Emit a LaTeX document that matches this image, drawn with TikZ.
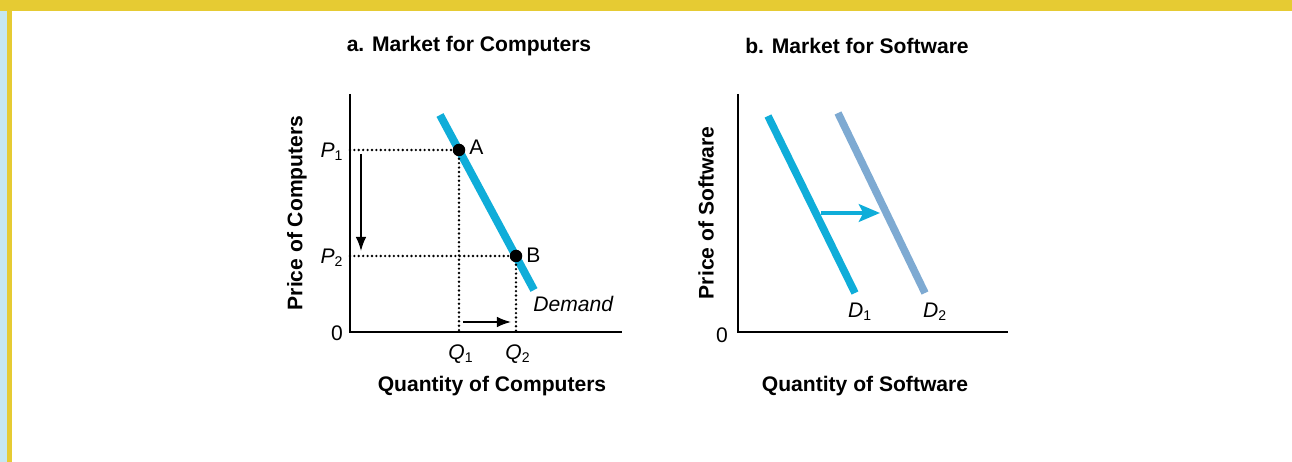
\documentclass[tikz,border=0pt]{standalone}
\usepackage{fontspec}
\setmainfont{Liberation Sans}
\usetikzlibrary{arrows.meta}

\definecolor{demandcyan}{HTML}{0FADD9}
\definecolor{shiftsteel}{HTML}{7EAAD2}
\definecolor{bandyellow}{HTML}{E6CB33}
\definecolor{bandblue}{HTML}{C6E7F1}

\tikzset{
  lbl/.style={inner sep=0pt, font=\fontsize{12}{14}\selectfont},
  boldlbl/.style={lbl, font=\fontsize{12}{14}\selectfont\bfseries},
  axis/.style={line width=0.85pt},
  demandline/.style={line width=4.5pt, demandcyan},
  guide/.style={line width=1.5pt, dash pattern=on 0pt off 2.5pt, line cap=round},
  movearrow/.style={line width=0.85pt, -{Latex[length=8pt,width=6pt]}},
}

\begin{document}
\begin{tikzpicture}[x=0.02cm,y=-0.02cm]
            \useasboundingbox (0,0) rectangle (1292,462);
            % frame
            \fill[bandblue] (0,0) rectangle (6.5,462);
            \fill[bandyellow] (6.5,0) rectangle (12,462);
            \fill[bandyellow] (0,0) rectangle (1292,11);

            % a. computers
            \coordinate (O1) at (350,332);
            \coordinate (Ytop1) at (350,94);
            \coordinate (Xend1) at (622,332);
            \coordinate (A) at (459,150);
            \coordinate (B) at (516,256);
            \coordinate (Dtop) at (440,115);
            \coordinate (Dbot) at (534,290);

            \draw[axis] (Ytop1) -- (O1) -- (Xend1);
            \draw[demandline] (Dtop) -- (Dbot);

            \draw[guide] (O1 |- A) -- (A);
            \draw[guide] (O1 |- B) -- (B);
            \draw[guide] (A) -- (A |- O1);
            \draw[guide] (B) -- (B |- O1);

            \coordinate (P1arr) at (361,154);
            \coordinate (P2arr) at (361,251);
            \coordinate (Q1arr) at (463,322);
            \coordinate (Q2arr) at (511,322);
            \draw[movearrow] (P1arr) -- (P2arr);
            \draw[movearrow] (Q1arr) -- (Q2arr);

            \fill (A) circle (0.125cm);
            \fill (B) circle (0.125cm);

            \node[lbl, anchor=west] (labA) at (469,147) {A};
            \node[lbl, anchor=west] (labB) at (526,255) {B};
            \node[lbl] (labP1) at (332,152) {$\mathit{P}_{\mathrm{1}}$};
            \node[lbl] (labP2) at (332,258) {$\mathit{P}_{\mathrm{2}}$};
            \node[lbl] (labQ1) at (461,354) {$\mathit{Q}_{\mathrm{1}}$};
            \node[lbl] (labQ2) at (518,354) {$\mathit{Q}_{\mathrm{2}}$};
            \node[lbl] (zero1) at (337,333) {0};
            \node[lbl, anchor=west] (labDem) at (533,304) {\itshape Demand};

            \node[boldlbl] (titleA) at (469,46) {a. Market for Computers};
            \node[boldlbl, rotate=90] (priceA) at (297,213) {Price of Computers};
            \node[boldlbl] (qtyA) at (492,386) {Quantity of Computers};

            % b. software
            \coordinate (O2) at (738,332);
            \coordinate (Ytop2) at (738,94);
            \coordinate (Xend2) at (1008,332);
            \coordinate (D1top) at (768,116);
            \coordinate (D1bot) at (855,293);
            \coordinate (D2top) at (838,113);
            \coordinate (D2bot) at (925,293);
            \coordinate (shiftfrom) at (821,213);
            \coordinate (shiftto) at (880,213);

            \draw[axis] (Ytop2) -- (O2) -- (Xend2);
            \draw[line width=4.3pt, demandcyan] (D1top) -- (D1bot);
            \draw[line width=4.3pt, shiftsteel] (D2top) -- (D2bot);
            \draw[line width=2.8pt, demandcyan, -{Stealth[length=12pt,width=10pt,inset=2.5pt]}] (shiftfrom) -- (shiftto);

            \node[lbl] (labD1) at (860,312) {$\mathit{D}_{\mathrm{1}}$};
            \node[lbl] (labD2) at (935,312) {$\mathit{D}_{\mathrm{2}}$};
            \node[lbl] (zero2) at (722,335) {0};

            \node[boldlbl] (titleB) at (857,46) {b. Market for Software};
            \node[boldlbl, rotate=90] (priceB) at (706,213) {Price of Software};
            \node[boldlbl] (qtyB) at (865,386) {Quantity of Software};
\end{tikzpicture}
\end{document}
